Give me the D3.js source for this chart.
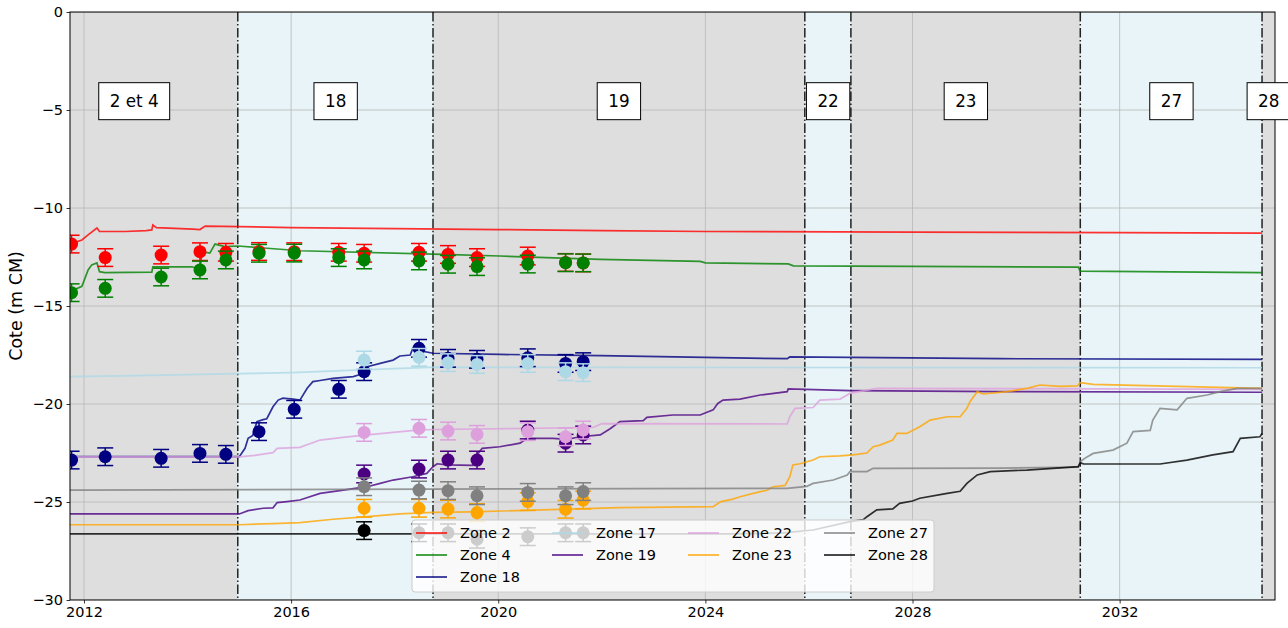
<!DOCTYPE html>
<html>
<head>
<meta charset="utf-8">
<script src="https://cdn.jsdelivr.net/npm/d3@7"></script>
<style>
  body { margin: 0; background: #fff; }
  svg { font-family: "DejaVu Sans", sans-serif; }
</style>
</head>
<body>
<svg id="chart"></svg>
<script>
const width = 1288;
const height = 628;
const margin = {top: 12, right: 13, bottom: 28, left: 70};

// zone periods (dates of the dash-dot separators) and their labels
const zoneBounds = [2011.0, 2014.97, 2018.74, 2025.92, 2026.81, 2031.24, 2034.75, 2035.25];
const zoneNames = ["2 et 4", "18", "19", "22", "23", "27", "28"];
const zoneLabelYears = [2012.97, 2016.86, 2022.33, 2026.37, 2029.03, 2033.0, 2034.88];
const separators = [2014.97, 2018.74, 2025.92, 2026.81, 2031.24, 2034.75];

const xTicks = [2012, 2016, 2020, 2024, 2028, 2032];
const yTicks = [0, -5, -10, -15, -20, -25, -30];

// observation dates
const obsYears = [2011.76, 2012.41, 2013.49, 2014.24, 2014.74, 2015.38, 2016.06, 2016.92,
                  2017.41, 2018.47, 2019.03, 2019.59, 2020.57, 2021.30, 2021.64];

const zoneKeys = ["Zone 2", "Zone 4", "Zone 18", "Zone 17", "Zone 19", "Zone 22", "Zone 23", "Zone 27", "Zone 28"];
const zoneColors = ["red", "green", "navy", "lightblue", "indigo", "plum", "orange", "gray", "black"];

// observed levels (null = no measure)
const obsZone2 = [-11.84, -12.53, -12.40, -12.23, -12.26, -12.22, -12.23, -12.26, -12.31, -12.26, -12.37, -12.53, -12.45, -12.78, -12.8];
const obsZone4 = [-14.32, -14.1, -13.52, -13.16, -12.65, -12.31, -12.3, -12.53, -12.65, -12.70, -12.87, -12.99, -12.86, -12.79, -12.8];
const obsZone18 = [-22.86, -22.69, -22.77, -22.52, -22.57, -21.41, -20.27, -19.25, -18.35, -17.16, -17.67, -17.72, -17.64, -17.93, -17.84];
const obsZone17 = [null, null, null, null, null, null, null, null, -17.76, -17.62, -17.89, -17.98, -17.93, -18.35, -18.40];
const obsZone19 = [null, null, null, null, null, null, null, null, -23.57, -23.32, -22.86, -22.86, -21.33, -22.0, -21.58];
const obsZone22 = [null, null, null, null, null, null, null, null, -21.45, -21.24, -21.38, -21.55, -21.41, -21.67, -21.33];
const obsZone23 = [null, null, null, null, null, null, null, null, -25.32, -25.32, -25.36, -25.54, -24.98, -25.37, -24.9];
const obsZone27 = [null, null, null, null, null, null, null, null, -24.22, -24.39, -24.42, -24.68, -24.51, -24.68, -24.47];
const obsZone28 = [null, null, null, null, null, null, null, null, -26.46, -26.57, -26.57, -26.9, -26.77, -26.57, -26.57];
const obsError = 0.45;

// simulated levels [year, cote]
const simZone2 = [[2011.73,-11.85],[2011.96,-11.63],[2012.08,-11.37],[2012.25,-11.02],[2012.3,-11.2],[2012.8,-11.2],
  [2013.2,-11.15],[2013.31,-11.12],[2013.33,-10.87],[2013.4,-11.0],[2014.1,-11.08],[2014.24,-11.1],[2014.34,-10.92],
  [2015,-10.95],[2016,-11.0],[2018,-11.05],[2020,-11.1],[2022,-11.15],[2024,-11.2],[2028,-11.23],[2032,-11.26],[2034.75,-11.28]];
const simZone4 = [[2011.73,-14.27],[2011.96,-14.0],[2012.08,-13.16],[2012.15,-12.9],[2012.25,-12.8],[2012.3,-13.25],
  [2012.4,-13.3],[2013.31,-13.27],[2013.33,-13.0],[2014.09,-13.0],[2014.24,-13.16],[2014.28,-12.23],[2014.43,-12.3],
  [2014.53,-11.84],[2014.72,-11.97],[2014.97,-11.94],[2016.17,-12.18],[2018.93,-12.37],[2020.03,-12.45],[2021.97,-12.62],
  [2023.9,-12.72],[2024.0,-12.8],[2025.6,-12.85],[2025.7,-12.95],[2028,-12.98],[2031.2,-13.02],[2031.24,-13.22],[2034.75,-13.3]];
const simZone18 = [[2011.73,-22.69],[2015.0,-22.69],[2015.11,-22.26],[2015.17,-21.75],[2015.26,-21.6],[2015.34,-20.9],
  [2015.46,-20.8],[2015.53,-20.75],[2015.65,-20.14],[2015.75,-19.8],[2015.84,-19.7],[2016.04,-19.75],[2016.17,-19.8],
  [2016.31,-19.2],[2016.42,-18.86],[2016.56,-18.8],[2016.81,-18.69],[2017.2,-18.6],[2017.33,-18.5],[2017.47,-18.1],
  [2017.72,-17.93],[2017.97,-17.76],[2018.1,-17.55],[2018.3,-17.5],[2018.35,-17.16],[2018.53,-17.3],[2018.74,-17.41],
  [2020.03,-17.47],[2021.97,-17.53],[2025.58,-17.69],[2025.63,-17.6],[2029.69,-17.69],[2034.75,-17.72]];
const simZone17 = [[2011.73,-18.6],[2013,-18.55],[2015,-18.45],[2016,-18.4],[2017,-18.3],[2018,-18.2],[2018.8,-18.12],
  [2020,-18.13],[2034.75,-18.15]];
const simZone19 = [[2011.73,-25.61],[2015.0,-25.61],[2015.17,-25.44],[2015.46,-25.32],[2015.65,-25.3],[2015.73,-25.03],
  [2015.92,-24.98],[2016.17,-24.9],[2016.56,-24.56],[2016.94,-24.42],[2017.47,-24.22],[2017.72,-24.05],[2017.97,-23.88],
  [2018.35,-23.71],[2018.62,-23.54],[2018.74,-23.2],[2018.82,-23.05],[2019.01,-23.11],[2019.51,-23.13],[2019.61,-22.52],
  [2019.69,-22.26],[2020.03,-22.18],[2020.42,-22.0],[2020.56,-21.75],[2021.06,-21.75],[2021.33,-21.8],[2021.58,-21.67],
  [2021.97,-21.58],[2022.16,-21.26],[2022.35,-20.9],[2022.8,-20.85],[2022.87,-20.68],[2023.37,-20.56],[2023.9,-20.56],
  [2024.15,-20.3],[2024.24,-19.97],[2024.34,-19.8],[2024.67,-19.75],[2025.06,-19.54],[2025.58,-19.37],[2025.6,-19.23],
  [2026.79,-19.32],[2029.69,-19.37],[2034.75,-19.4]];
const simZone22 = [[2011.73,-22.7],[2015.0,-22.7],[2015.3,-22.62],[2015.65,-22.48],[2015.73,-22.26],[2016.17,-22.21],
  [2016.56,-21.84],[2017.0,-21.7],[2017.47,-21.58],[2018.43,-21.33],[2018.74,-21.3],[2021.83,-21.2],[2022.0,-21.0],
  [2025.58,-21.02],[2025.63,-20.65],[2025.73,-20.22],[2026.08,-20.18],[2026.21,-19.8],[2026.6,-19.75],[2026.79,-19.46],
  [2027.12,-19.29],[2027.31,-19.2],[2034.75,-19.25]];
const simZone23 = [[2011.73,-26.16],[2015.0,-26.16],[2015.65,-26.1],[2016.17,-26.05],[2016.81,-25.88],[2017.47,-25.75],
  [2018.1,-25.61],[2018.74,-25.53],[2019.51,-25.5],[2022.35,-25.29],[2024.15,-25.24],[2024.3,-24.98],[2024.53,-24.85],
  [2024.67,-24.73],[2025.06,-24.47],[2025.19,-24.4],[2025.31,-24.22],[2025.54,-24.15],[2025.63,-23.71],[2025.69,-23.11],
  [2025.83,-23.05],[2026.08,-22.86],[2026.21,-22.69],[2026.6,-22.65],[2026.85,-22.6],[2027.12,-22.5],[2027.24,-22.18],
  [2027.37,-22.1],[2027.62,-21.84],[2027.7,-21.5],[2027.89,-21.5],[2028.14,-21.16],[2028.34,-20.82],[2028.67,-20.65],
  [2028.92,-20.65],[2029.05,-20.22],[2029.11,-19.88],[2029.25,-19.37],[2029.36,-19.49],[2029.83,-19.37],[2030.21,-19.2],
  [2030.46,-19.03],[2030.85,-19.1],[2031.18,-19.08],[2031.24,-18.91],[2031.49,-19.0],[2034.75,-19.2]];
const simZone27 = [[2011.73,-24.39],[2025.58,-24.3],[2025.96,-24.2],[2026.08,-24.05],[2026.47,-23.88],[2026.74,-23.62],
  [2026.79,-23.45],[2027.12,-23.45],[2027.24,-23.28],[2029.69,-23.27],[2031.2,-23.22],[2031.24,-22.94],[2031.37,-22.7],
  [2031.49,-22.52],[2031.87,-22.35],[2032.14,-22.0],[2032.26,-21.41],[2032.59,-21.35],[2032.64,-20.82],[2032.78,-20.22],
  [2033.11,-20.3],[2033.3,-19.71],[2033.69,-19.54],[2033.94,-19.37],[2034.27,-19.2],[2034.75,-19.2]];
const simZone28 = [[2011.73,-26.63],[2024.5,-26.63],[2025.5,-26.58],[2026.08,-26.43],[2026.79,-26.0],[2027.05,-25.9],
  [2027.12,-25.75],[2027.31,-25.4],[2027.62,-25.35],[2027.75,-25.07],[2028.0,-24.95],[2028.14,-24.81],[2028.67,-24.56],
  [2028.92,-24.45],[2029.05,-24.05],[2029.25,-23.62],[2029.5,-23.45],[2030.21,-23.37],[2031.2,-23.2],[2031.24,-23.0],
  [2031.3,-23.05],[2032.78,-23.06],[2033.3,-22.86],[2033.8,-22.6],[2034.19,-22.43],[2034.33,-21.75],[2034.71,-21.67],[2034.75,-21.5]];

const simSeries = [simZone2, simZone4, simZone18, simZone17, simZone19, simZone22, simZone23, simZone27, simZone28];
const obsSeries = [obsZone2, obsZone4, obsZone18, obsZone17, obsZone19, obsZone22, obsZone23, obsZone27, obsZone28];

const svg = d3.select("#chart")
    .attr("width", width)
    .attr("height", height);

const x = d3.scaleLinear()
    .domain([2011.73, 2035.0])
    .range([margin.left, width - margin.right]);

const y = d3.scaleLinear()
    .domain([-30, 0])
    .range([height - margin.bottom, margin.top]);

svg.append("clipPath").attr("id", "plot-clip")
    .append("rect")
    .attr("x", margin.left).attr("y", margin.top)
    .attr("width", x.range()[1] - margin.left)
    .attr("height", y.range()[0] - margin.top);

const plot = svg.append("g").attr("clip-path", "url(#plot-clip)");

// zone backgrounds
plot.selectAll(".zone-bg")
    .data(zoneNames)
    .enter().append("rect")
    .attr("class", "zone-bg")
    .attr("x", (d, i) => x(zoneBounds[i]))
    .attr("width", (d, i) => x(zoneBounds[i + 1]) - x(zoneBounds[i]))
    .attr("y", margin.top)
    .attr("height", y(-30) - margin.top)
    .attr("fill", (d, i) => i % 2 === 0 ? "#dedede" : "#e8f4f7");

// grid
plot.selectAll(".xgrid")
    .data(xTicks)
    .enter().append("line")
    .attr("x1", d => x(d)).attr("x2", d => x(d))
    .attr("y1", margin.top).attr("y2", y(-30))
    .attr("stroke", "#b8b8b8").attr("stroke-width", 0.8);

plot.selectAll(".ygrid")
    .data(yTicks)
    .enter().append("line")
    .attr("x1", margin.left).attr("x2", x.range()[1])
    .attr("y1", d => y(d)).attr("y2", d => y(d))
    .attr("stroke", "#b8b8b8").attr("stroke-width", 0.8);

// separators
plot.selectAll(".sep")
    .data(separators)
    .enter().append("line")
    .attr("x1", d => x(d)).attr("x2", d => x(d))
    .attr("y1", margin.top).attr("y2", y(-30))
    .attr("stroke", "#222")
    .attr("stroke-width", 1.5)
    .attr("stroke-dasharray", "9.6,2.4,1.5,2.4");

// simulated lines
const line = d3.line()
    .x(d => x(d[0]))
    .y(d => y(d[1]));

plot.selectAll(".sim")
    .data(simSeries)
    .enter().append("path")
    .attr("d", line)
    .attr("fill", "none")
    .attr("stroke", (d, i) => zoneColors[i])
    .attr("stroke-opacity", 0.8)
    .attr("stroke-width", 1.7);

// observations with error bars
obsSeries.forEach((vals, i) => {
    const pts = obsYears.map((yr, j) => [yr, vals[j]]).filter(p => p[1] !== null);
    const g = plot.append("g").attr("stroke", zoneColors[i]).attr("fill", zoneColors[i]);
    pts.forEach(p => {
        const cx = x(p[0]);
        g.append("line")
            .attr("x1", cx).attr("x2", cx)
            .attr("y1", y(p[1] + obsError)).attr("y2", y(p[1] - obsError))
            .attr("stroke-width", 1.5);
        [p[1] + obsError, p[1] - obsError].forEach(v => {
            g.append("line")
                .attr("x1", cx - 8).attr("x2", cx + 8)
                .attr("y1", y(v)).attr("y2", y(v))
                .attr("stroke-width", 1.5);
        });
        g.append("circle")
            .attr("cx", cx).attr("cy", y(p[1]))
            .attr("r", 6.5)
            .attr("stroke", "none");
    });
});

// axes
const xAxis = svg.append("g")
    .attr("transform", `translate(0,${y(-30)})`)
    .call(d3.axisBottom(x).tickValues(xTicks).tickFormat(d3.format("d")).tickSize(3.5).tickPadding(3));
const yAxis = svg.append("g")
    .attr("transform", `translate(${margin.left},0)`)
    .call(d3.axisLeft(y).tickValues(yTicks).tickFormat(d => d === 0 ? "0" : "\u2212" + Math.abs(d)).tickSize(3.5).tickPadding(3.5));

[xAxis, yAxis].forEach(a => {
    a.select(".domain").remove();
    a.selectAll("text").attr("font-size", 14.5).attr("fill", "#000").attr("font-family", "DejaVu Sans, sans-serif");
    a.selectAll("line").attr("stroke", "#000").attr("stroke-width", 0.8);
});

svg.append("rect")
    .attr("x", margin.left).attr("y", margin.top)
    .attr("width", x.range()[1] - margin.left)
    .attr("height", y(-30) - margin.top)
    .attr("fill", "none").attr("stroke", "#000").attr("stroke-width", 1);

svg.append("text")
    .attr("transform", `translate(22,${(margin.top + y(-30)) / 2}) rotate(-90)`)
    .attr("text-anchor", "middle")
    .attr("font-size", 17.5)
    .text("Cote (m CM)");

// zone labels
const labels = svg.selectAll(".zlabel")
    .data(zoneNames)
    .enter().append("g")
    .attr("transform", (d, i) => `translate(${x(zoneLabelYears[i])},${y(-4.55)})`);
labels.append("text")
    .attr("text-anchor", "middle")
    .attr("dy", "0.35em")
    .attr("font-size", 16.8)
    .text(d => d);
labels.each(function() {
    const g = d3.select(this);
    const bb = g.select("text").node().getBBox();
    g.insert("rect", "text")
        .attr("x", bb.x - 11).attr("y", -18.5)
        .attr("width", bb.width + 22).attr("height", 37)
        .attr("fill", "#fff").attr("stroke", "#000").attr("stroke-width", 1);
});

// legend
const legend = svg.append("g").attr("transform", "translate(412,520)");
legend.append("rect")
    .attr("width", 522).attr("height", 72)
    .attr("rx", 3)
    .attr("fill", "#fff").attr("fill-opacity", 0.8)
    .attr("stroke", "#ccc").attr("stroke-width", 1);

const legendRows = [0, 1, 2, 0, 1, 0, 1, 0, 1];
const legendCols = [0, 0, 0, 1, 1, 2, 2, 3, 3];
const colStep = 136;
const items = legend.selectAll(".li")
    .data(zoneKeys)
    .enter().append("g")
    .attr("transform", (d, i) => `translate(${4 + legendCols[i] * colStep},${13 + legendRows[i] * 22})`);
items.append("line")
    .attr("x1", 0).attr("x2", 31)
    .attr("stroke", (d, i) => zoneColors[i])
    .attr("stroke-opacity", 0.8)
    .attr("stroke-width", 1.8);
items.append("text")
    .attr("x", 44)
    .attr("dy", "0.35em")
    .attr("font-size", 14.5)
    .text(d => d);
</script>
</body>
</html>
